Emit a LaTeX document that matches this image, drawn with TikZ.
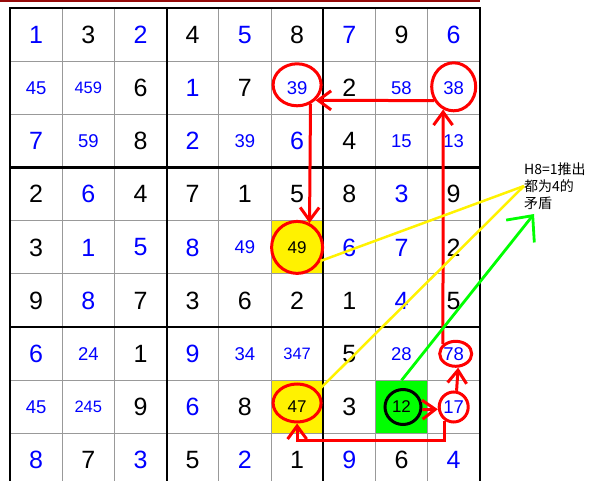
\documentclass[tikz,border=0pt]{standalone}
\usepackage{fontspec}
\setmainfont{Liberation Sans}
\newfontfamily\cjk{Noto Sans CJK SC}
\usepackage{tikz}
\usetikzlibrary{matrix}
\usetikzlibrary{shapes.geometric}
\usetikzlibrary{arrows.meta}
\definecolor{barred}{RGB}{150,10,10}
\tikzset{given/.style={font=\fontsize{25}{25}\selectfont},
    solved/.style={text=blue},
    cand/.style={text=blue,font=\fontsize{18.5}{18.5}\selectfont},
    cand3/.style={text=blue,font=\fontsize{16.5}{16.5}\selectfont},
    candk/.style={font=\fontsize{17}{17}\selectfont},
    ring/.style={draw=red,line width=3pt,ellipse,inner sep=0pt},
    link/.style={draw=red,line width=3pt,-{Straight Barb[length=13pt,width=19pt]}},
    thin grid/.style={draw=black!40,line width=1pt},
    box grid/.style={draw=black,line width=2.2pt},
    note/.style={font=\cjk\fontsize{14}{17}\selectfont,align=left,inner sep=0pt}
}

\begin{document}
\begin{tikzpicture}[x=1pt,y=-1pt]
                \useasboundingbox (0,0) rectangle (600,481);
                \fill[barred] (0,0) rectangle (480,2);
                
                \matrix (g) [matrix of nodes,inner sep=0pt,outer sep=0pt,column sep=0pt,row sep=0pt,
                    nodes={given,anchor=center,minimum width=52.2pt,minimum height=53.2pt,inner sep=0pt,outer sep=0pt}]
                    at (244.9,247.4) {
                |[solved]|1 & 3 & |[solved]|2 & 4 & |[solved]|5 & 8 & |[solved]|7 & 9 & |[solved]|6 \\
                |[cand]|45 & |[cand3]|459 & 6 & |[solved]|1 & 7 & |[cand]|39 & 2 & |[cand]|58 & |[cand]|38 \\
                |[solved]|7 & |[cand]|59 & 8 & |[solved]|2 & |[cand]|39 & |[solved]|6 & 4 & |[cand]|15 & |[cand]|13 \\
                2 & |[solved]|6 & 4 & 7 & 1 & 5 & 8 & |[solved]|3 & 9 \\
                3 & |[solved]|1 & |[solved]|5 & |[solved]|8 & |[cand]|49 & |[candk,fill=yellow]|49 & |[solved]|6 & |[solved]|7 & 2 \\
                9 & |[solved]|8 & 7 & 3 & 6 & 2 & 1 & |[solved]|4 & 5 \\
                |[solved]|6 & |[cand]|24 & 1 & |[solved]|9 & |[cand]|34 & |[cand3]|347 & 5 & |[cand]|28 & |[cand]|78 \\
                |[cand]|45 & |[cand3]|245 & 9 & |[solved]|6 & 8 & |[candk,fill=yellow]|47 & 3 & |[candk,fill=green]|12 & |[cand]|17 \\
                |[solved]|8 & 7 & |[solved]|3 & 5 & |[solved]|2 & 1 & |[solved]|9 & 6 & |[solved]|4 \\
                };
                
                % Grid
                \draw[thin grid] (g-1-1.north east) -- (g-9-1.south east) (g-1-2.north east) -- (g-9-2.south east)
                    (g-1-4.north east) -- (g-9-4.south east) (g-1-5.north east) -- (g-9-5.south east)
                    (g-1-7.north east) -- (g-9-7.south east) (g-1-8.north east) -- (g-9-8.south east);
                \draw[thin grid] (g-1-1.south west) -- (g-1-9.south east) (g-2-1.south west) -- (g-2-9.south east)
                    (g-4-1.south west) -- (g-4-9.south east) (g-5-1.south west) -- (g-5-9.south east)
                    (g-7-1.south west) -- (g-7-9.south east) (g-8-1.south west) -- (g-8-9.south east);
                \draw[box grid] (g-1-3.north east) -- (g-9-3.south east) (g-1-6.north east) -- (g-9-6.south east)
                    (g-3-1.south west) -- (g-3-9.south east) (g-6-1.south west) -- (g-6-9.south east);
                \draw[box grid] (g-1-1.north west) rectangle (g-9-9.south east);
                
                % Rings
                \node[ring,minimum width=48pt,minimum height=42pt] (r39) at ([yshift=3pt]g-2-6) {};
                \node[ring,minimum width=44pt,minimum height=48pt] (r38) at ([yshift=1pt]g-2-9) {};
                \node[ring,minimum width=51pt,minimum height=52pt] (r49) at (g-5-6) {};
                \node[ring,minimum width=48pt,minimum height=38pt] (r47) at ([yshift=4pt]g-8-6) {};
                \node[ring,minimum width=32pt,minimum height=25pt] (r78) at ([xshift=2pt]g-7-9) {};
                \node[ring,minimum width=29pt,minimum height=30pt] (r17) at (g-8-9) {};
                \node[ring,draw=black,minimum width=36pt,minimum height=35pt] (r12) at ([xshift=1.5pt]g-8-8) {};
                
                % Chain
                \draw[link] (r38.215) -- (r39.-40);
                \draw[link] (r39.-55) -- (r49.63);
                \draw[link] (r78.143) -- (r38.245);
                \draw[link] (r17.80) -- (r78.-80);
                \draw[link] (r12.-8) -- (r17.188);
                \draw[link] (r17.236) -- ++(0,20) -| (r47.south);
                
                % Labels
                \node[note,anchor=west] (note) at (524,186) {H8=1推出\\都为4的\\矛盾};
                \coordinate (gtip) at (534,214);
                
                \draw[yellow,line width=2.5pt] (r49.-30) -- (note.west);
                \draw[yellow,line width=2.5pt] (r47.30) -- (note.west);
                \draw[green,line width=2.8pt,-{Straight Barb[length=20pt,width=36pt]}] (g-8-8.north) -- (gtip);
            \end{tikzpicture}
\end{document}
